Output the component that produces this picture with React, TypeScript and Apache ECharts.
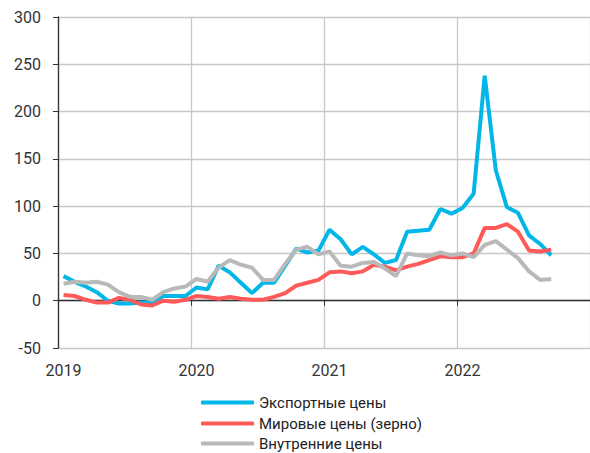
import React, { useEffect, useRef } from "react";
import * as echarts from "echarts";

const years = ["2019", "2020", "2021", "2022"];
const months = ["01", "02", "03", "04", "05", "06", "07", "08", "09", "10", "11", "12"];
const categories: string[] = [];
years.forEach((y) => months.forEach((m) => categories.push(`${y}-${m}`)));

const seriesNames = ["Экспортные цены", "Мировые цены (зерно)", "Внутренние цены"];

const exportPrices = [
  26, 20, 15, 9, 0, -3, -3, -2, -2, 5, 5, 5,
  14, 12, 37, 30, 19, 8, 19, 19, 37, 55, 51, 53,
  75, 65, 49, 57, 49, 40, 43, 73, 74, 75, 97, 92,
  98, 113, 238, 138, 99, 93, 69, 60, 48,
];
const worldPrices = [
  6, 5, 1, -2, -2, 3, 1, -4, -5, 0, -1, 1,
  5, 4, 2, 4, 2, 1, 1, 4, 8, 16, 19, 22,
  30, 31, 29, 31, 38, 36, 32, 36, 39, 43, 47, 46,
  46, 50, 77, 77, 81, 73, 53, 52, 54,
];
const domesticPrices = [
  18, 20, 19, 20, 17, 9, 4, 4, 1, 9, 13, 15,
  23, 20, 35, 43, 38, 35, 22, 22, 39, 54, 57, 49,
  52, 37, 36, 40, 41, 34, 26, 50, 48, 47, 51, 48,
  50, 46, 59, 63, 54, 45, 31, 22, 23,
];

const colors = ["#00B7E8", "#FF5A5A", "#B9B9B9"];
const FONT = "Roboto";
const legendTops = [395, 416, 436];

export default function App() {
  const ref = useRef<HTMLDivElement>(null);
  useEffect(() => {
    if (!ref.current) return;
    const chart = echarts.init(ref.current, null, { renderer: "svg" });
    const yearTick = (i: number) => i % 12 === 0;
    chart.setOption({
      animation: false,
      textStyle: { fontFamily: FONT },
      grid: { left: 58, top: 17, width: 533, height: 331, containLabel: false },
      xAxis: {
        type: "category",
        data: categories,
        boundaryGap: true,
        axisLine: { show: true, onZero: true, lineStyle: { color: "#333", width: 1.3 } },
        axisTick: { show: true, interval: yearTick, length: 5, lineStyle: { color: "#333" } },
        axisLabel: {
          interval: yearTick,
          margin: 14,
          fontSize: 16,
          color: "#333",
          fontFamily: FONT,
          formatter: (v: string) => v.slice(0, 4),
        },
        splitLine: { show: true, interval: yearTick, lineStyle: { color: "#C8C8C8", width: 1.3 } },
      },
      yAxis: {
        type: "value",
        min: -50,
        max: 300,
        interval: 50,
        axisLine: { show: true, lineStyle: { color: "#333", width: 1.3 } },
        axisTick: { show: true, length: 5, lineStyle: { color: "#333" } },
        axisLabel: { margin: 17, fontSize: 16, color: "#333", fontFamily: FONT },
        splitLine: { show: true, lineStyle: { color: "#C8C8C8", width: 1.3 } },
      },
      legend: seriesNames.map((name, k) => ({
        orient: "vertical",
        left: 201,
        top: legendTops[k],
        padding: 0,
        itemWidth: 53,
        itemHeight: 4,
        itemGap: 5,
        icon: "roundRect",
        textStyle: { fontSize: 15, color: "#222", fontFamily: FONT },
        data: [name],
      })),
      series: [exportPrices, worldPrices, domesticPrices].map((d, k) => ({
        name: seriesNames[k],
        type: "line",
        data: d,
        symbol: "none",
        color: colors[k],
        lineStyle: { width: 4, color: colors[k] },
      })),
    });
    return () => chart.dispose();
  }, []);
  return (
    <div
      ref={ref}
      style={{ position: "absolute", left: 0, top: 0, width: 590, height: 453 }}
    />
  );
}
